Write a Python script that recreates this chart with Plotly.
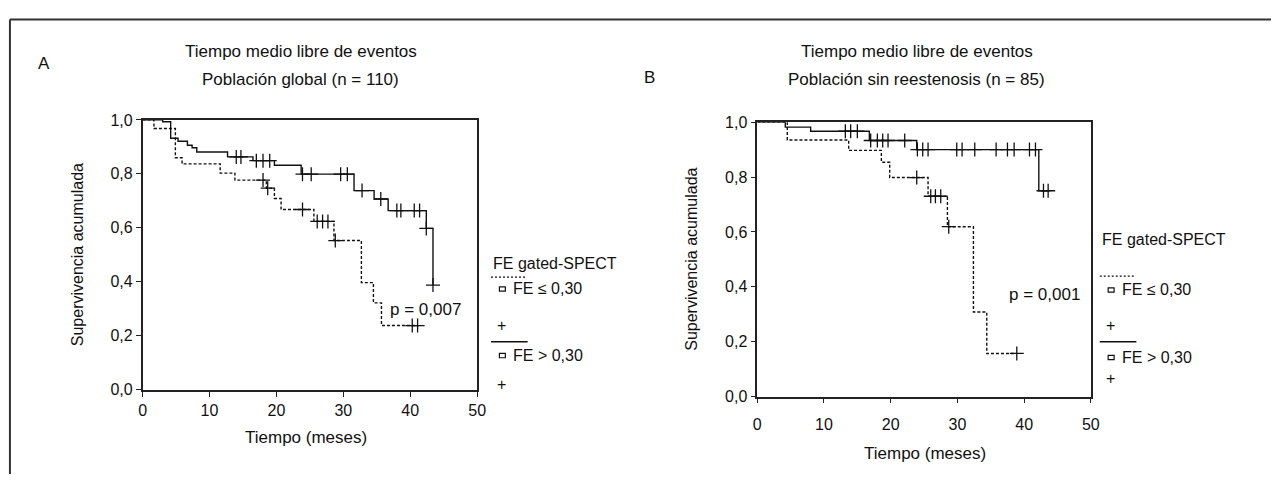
import plotly.graph_objects as go

# ---------------- data ----------------
# Panel A: Población global (n = 110)
A_hi_t = [0, 3.0, 4.2, 5.3, 6.7, 7.4, 8.1, 12.7, 16.5, 19.7, 23.7, 31.6, 34.6, 36.7, 42.4, 43.4]
A_hi_s = [1.0, 0.993, 0.932, 0.921, 0.906, 0.897, 0.881, 0.863, 0.849, 0.832, 0.799, 0.738, 0.707, 0.664, 0.598, 0.388]
A_hi_cens = [14.0, 14.7, 17.0, 18.0, 19.0, 23.9, 25.2, 29.6, 30.6, 32.8, 35.6, 38.0, 38.6, 40.6, 41.4, 42.4, 43.4]

A_lo_t = [0, 1.7, 4.9, 5.9, 11.6, 13.8, 18.5, 19.7, 20.7, 25.6, 28.6, 32.7, 34.5, 35.7]
A_lo_s = [1.0, 0.968, 0.860, 0.837, 0.803, 0.777, 0.747, 0.709, 0.668, 0.624, 0.553, 0.397, 0.322, 0.238]
A_lo_cens = [18.0, 18.7, 23.9, 26.1, 26.9, 27.7, 28.8, 40.3, 41.1]

# Panel B: Población sin reestenosis (n = 85)
B_hi_t = [0, 4.2, 8.0, 16.8, 23.9, 42.2]
B_hi_s = [1.0, 0.982, 0.967, 0.933, 0.900, 0.750]
B_hi_cens = [13.2, 14.0, 15.0, 17.0, 18.0, 18.8, 19.6, 22.1, 24.0, 24.8, 25.6,
             29.9, 30.7, 32.6, 35.8, 37.5, 38.5, 40.8, 41.7, 42.9, 43.6]

B_lo_t = [0, 4.5, 13.7, 18.6, 19.85, 25.6, 28.5, 32.4, 34.4]
B_lo_s = [1.0, 0.935, 0.897, 0.854, 0.798, 0.730, 0.619, 0.308, 0.157]
B_lo_cens = [23.9, 26.0, 26.7, 27.5, 28.7, 38.9]

x_ticks = [0, 10, 20, 30, 40, 50]
x_ticktext = ["0", "10", "20", "30", "40", "50"]
y_ticks = [0.0, 0.2, 0.4, 0.6, 0.8, 1.0]
y_ticktext = ["0,0", "0,2", "0,4", "0,6", "0,8", "1,0"]

titles_A = ["Tiempo medio libre de eventos", "Población global (n = 110)"]
titles_B = ["Tiempo medio libre de eventos", "Población sin reestenosis (n = 85)"]
legend_title = "FE gated-SPECT"
group_labels = ["FE ≤ 0,30", "FE > 0,30"]
p_values = ["p = 0,007", "p = 0,001"]

# ---------------- helpers ----------------
W, H = 1280, 483
FONT = "Liberation Sans Narrow, Arial Narrow, Liberation Sans, Arial, sans-serif"


def px(x):
    return x / W


def py(y):
    return 1 - y / H


def step_at(ts, ss, t):
    val = ss[0]
    for ti, si in zip(ts, ss):
        if ti <= t:
            val = si
    return val


fig = go.Figure()


def add_curve(ts, ss, cens, xa, ya, dash):
    end = max(cens + [ts[-1]])
    fig.add_trace(go.Scatter(
        x=ts + [end], y=ss + [ss[-1]], mode="lines", line_shape="hv",
        line=dict(color="#111111", width=1.4, dash=dash),
        xaxis=xa, yaxis=ya, showlegend=False, hoverinfo="skip"))
    fig.add_trace(go.Scatter(
        x=cens, y=[step_at(ts, ss, c) for c in cens], mode="markers",
        marker=dict(symbol="cross-thin", size=10, line=dict(color="#111111", width=1.3)),
        xaxis=xa, yaxis=ya, showlegend=False, hoverinfo="skip"))


DOT = "3px,2px"
add_curve(A_lo_t, A_lo_s, A_lo_cens, "x", "y", DOT)
add_curve(A_hi_t, A_hi_s, A_hi_cens, "x", "y", "solid")
add_curve(B_lo_t, B_lo_s, B_lo_cens, "x2", "y2", DOT)
add_curve(B_hi_t, B_hi_s, B_hi_cens, "x2", "y2", "solid")

axis_common = dict(
    showline=True, linecolor="#222222", linewidth=1.5, mirror=True,
    ticks="outside", ticklen=5, tickwidth=1.2, tickcolor="#222222",
    showgrid=False, zeroline=False,
    tickfont=dict(family=FONT, size=16, color="#111111"),
)

fig.update_layout(
    width=W, height=H,
    margin=dict(l=0, r=0, t=0, b=0),
    paper_bgcolor="white", plot_bgcolor="white",
    font=dict(family=FONT, size=16, color="#111111"),
    xaxis=dict(domain=[px(140), px(478)], range=[0, 50], tickvals=x_ticks,
               ticktext=x_ticktext, anchor="y", **axis_common),
    yaxis=dict(domain=[py(395.7), py(116)], range=[0, 1], tickvals=y_ticks,
               ticktext=y_ticktext, anchor="x", **axis_common),
    xaxis2=dict(domain=[px(761), px(1098)], range=[0, 50], tickvals=x_ticks,
                ticktext=x_ticktext, anchor="y2", ticklabelstandoff=8, **axis_common),
    yaxis2=dict(domain=[py(402.7), py(118.3)], range=[0, 1], tickvals=y_ticks,
                ticktext=y_ticktext, anchor="x2", **axis_common),
)

ann = []


def text(x, y, s, size=16, angle=0, xanchor="center"):
    ann.append(dict(x=px(x), y=py(y), xref="paper", yref="paper", text=s,
                    showarrow=False, xanchor=xanchor, yanchor="middle",
                    textangle=angle, font=dict(family=FONT, size=size, color="#111111")))


# panel letters and titles
text(40, 58, "A", 17)
text(300, 45, titles_A[0], 17)
text(300, 74, titles_A[1], 17)
text(652, 72, "B", 17)
text(922, 45, titles_B[0], 17)
text(922, 74, titles_B[1], 17)

# axis titles
text(75, 256, "Supervivencia acumulada", 16, -90)
text(305, 445, "Tiempo (meses)", 17)
text(695, 260, "Supervivencia acumulada", 16, -90)
text(930, 462, "Tiempo (meses)", 17)

# p-values
text(426, 312, p_values[0], 17)
text(1051, 297, p_values[1], 17)

shapes = []


def legend(x0, y_title, y_dot, y_lo, y_plus1, y_line, y_hi, y_plus2):
    text(x0, y_title, legend_title, 16, xanchor="left")
    shapes.append(dict(type="line", xref="paper", yref="paper",
                       x0=px(x0), x1=px(x0 + 35), y0=py(y_dot), y1=py(y_dot),
                       line=dict(color="#111111", width=1.3, dash="2px,2px")))
    shapes.append(dict(type="rect", xref="paper", yref="paper",
                       x0=px(x0 + 8.5), x1=px(x0 + 14.5), y0=py(y_lo + 2.5), y1=py(y_lo - 2),
                       line=dict(color="#111111", width=1.2)))
    text(x0 + 20, y_lo, group_labels[0], 16, xanchor="left")
    text(x0 + 11, y_plus1, "+", 16)
    shapes.append(dict(type="line", xref="paper", yref="paper",
                       x0=px(x0), x1=px(x0 + 37), y0=py(y_line), y1=py(y_line),
                       line=dict(color="#111111", width=1.4)))
    shapes.append(dict(type="rect", xref="paper", yref="paper",
                       x0=px(x0 + 8.5), x1=px(x0 + 14.5), y0=py(y_hi + 2.5), y1=py(y_hi - 2),
                       line=dict(color="#111111", width=1.2)))
    text(x0 + 20, y_hi, group_labels[1], 16, xanchor="left")
    text(x0 + 11, y_plus2, "+", 16)


legend(492, 265, 279, 291, 329, 346, 360, 390)
legend(1107, 240, 278, 292, 329, 346, 362, 384)

# outer frame (top and left)
shapes.append(dict(type="line", xref="paper", yref="paper", x0=px(6), x1=1,
                   y0=py(12), y1=py(12), line=dict(color="#333333", width=2)))
shapes.append(dict(type="line", xref="paper", yref="paper", x0=px(6), x1=px(6),
                   y0=py(12), y1=0, line=dict(color="#333333", width=2)))

fig.update_layout(annotations=ann, shapes=shapes)
fig.write_html("out.html",
               config={"displayModeBar": False},
               post_script="document.body.style.margin='0';document.body.style.padding='0';")
